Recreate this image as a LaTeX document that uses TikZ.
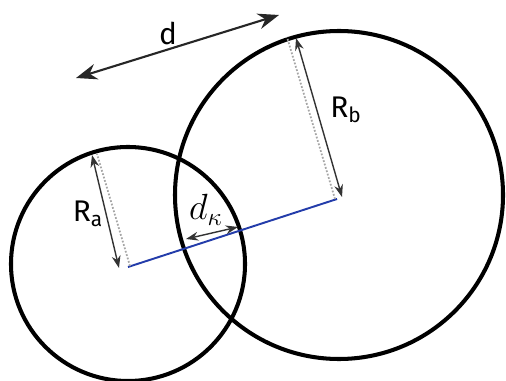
\documentclass[tikz,border=0pt]{standalone}
\usepackage{fontspec}
\setsansfont{Fira Sans}
\usetikzlibrary{arrows.meta}
\definecolor{lineblue}{RGB}{35,60,170}
\tikzset{
  ring/.style={line width=2.3pt, black},
  centerline/.style={line width=1.1pt, lineblue},
  radial/.style={line width=1pt, densely dotted, gray!70},
  dimarrow/.style={line width=0.8pt, black!80, {Stealth[length=7pt,width=5pt]}-{Stealth[length=7pt,width=5pt]}},
  bigarrow/.style={line width=1.2pt, black!85, {Stealth[length=12pt,width=9pt]}-{Stealth[length=12pt,width=9pt]}},
  lbl/.style={font=\sffamily\fontsize{17}{20}\selectfont, inner sep=0pt}
}
\begin{document}
\begin{tikzpicture}[x=0.02cm, y=-0.02cm]
\useasboundingbox (0,0) rectangle (506,381);
% centres
\coordinate (A) at (128,264);
\coordinate (B) at (339,195);
\coordinate (Aend) at (128,267);
\coordinate (Bend) at (337,199);
% circles
\draw[ring] (A) circle (117);
\draw[ring] (B) circle (164);
% centre line
\draw[centerline] (Aend) -- (Bend);
% radius Ra
\coordinate (RaTop) at (97,154);
\coordinate (RaBot) at (130,266);
\coordinate (RaArrTop) at (92,155);
\coordinate (RaArrBot) at (119,268);
\draw[radial] (RaBot) -- (RaTop);
\draw[dimarrow] (RaArrTop) -- (RaArrBot);
\node[lbl] (la) at (88,214) {R\textsubscript{a}};
% radius Rb
\coordinate (RbTop) at (287,37);
\coordinate (RbBot) at (335,199);
\coordinate (RbArrTop) at (296,38);
\coordinate (RbArrBot) at (342,197);
\draw[radial] (RbBot) -- (RbTop);
\draw[dimarrow] (RbArrTop) -- (RbArrBot);
\node[lbl] (lb) at (346,110) {R\textsubscript{b}};
% distance d
\coordinate (dL) at (76,78);
\coordinate (dR) at (279,15);
\draw[bigarrow] (dL) -- (dR);
\node[lbl] (ld) at (168,33) {d};
% d kappa
\coordinate (kL) at (186,239);
\coordinate (kR) at (238,227);
\draw[dimarrow] (kL) -- (kR);
\node[inner sep=0pt, font=\fontsize{20}{24}\selectfont] (lk) at (206,210) {$d_\kappa$};
\end{tikzpicture}
\end{document}
